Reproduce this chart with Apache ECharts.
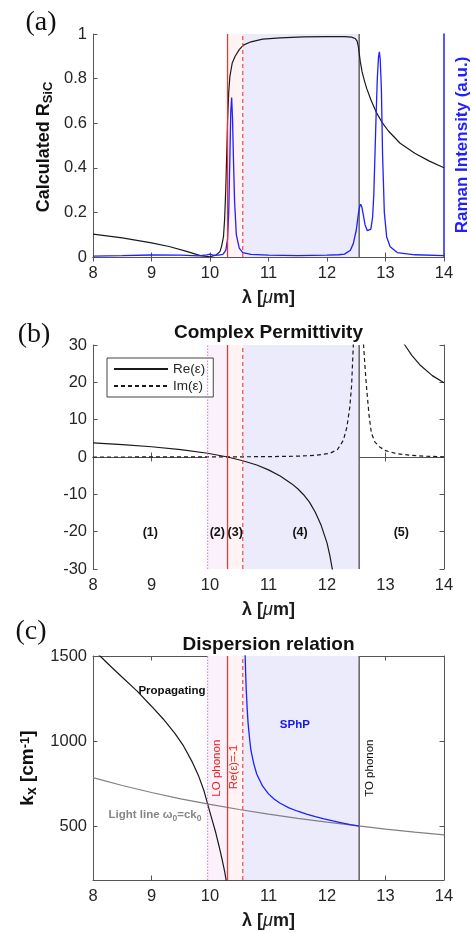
<!DOCTYPE html>
<html>
<head>
<meta charset="utf-8">
<script src="https://cdn.jsdelivr.net/npm/echarts@6/dist/echarts.min.js"></script>
<style>
html, body { margin: 0; padding: 0; background: #fff; }
#chart { width: 471px; height: 933px; }
</style>
</head>
<body>
<div id="chart"></div>
<script>
// (a) calculated reflectance and Raman spectrum
const rLam = [8, 8.5, 9, 9.3, 9.6, 9.85, 10.0, 10.1, 10.17, 10.2, 10.23, 10.25, 10.27, 10.29, 10.3, 10.32, 10.34, 10.38, 10.43, 10.5, 10.57, 10.7, 10.9, 11.2, 11.6, 12, 12.3, 12.42, 12.48, 12.515, 12.535, 12.55, 12.57, 12.6, 12.64, 12.68, 12.75, 12.85, 12.95, 13.05, 13.25, 13.5, 13.75, 14];
const rVal = [0.103, 0.086, 0.063, 0.047, 0.025, 0.005, 0.001, 0.008, 0.024, 0.05, 0.09, 0.17, 0.31, 0.5, 0.61, 0.74, 0.81, 0.87, 0.9, 0.93, 0.95, 0.965, 0.977, 0.983, 0.987, 0.988, 0.988, 0.986, 0.98, 0.968, 0.945, 0.915, 0.875, 0.83, 0.79, 0.755, 0.705, 0.645, 0.6, 0.565, 0.51, 0.465, 0.43, 0.40];
const ramanLam = [8, 8.5, 9, 9.5, 9.8, 9.95, 10.0, 10.05, 10.15, 10.22, 10.27, 10.3, 10.32, 10.34, 10.355, 10.37, 10.385, 10.4, 10.42, 10.45, 10.5, 10.56, 10.7, 11, 11.5, 12, 12.2, 12.3, 12.4, 12.45, 12.5, 12.54, 12.56, 12.575, 12.595, 12.62, 12.65, 12.69, 12.72, 12.75, 12.78, 12.8, 12.82, 12.84, 12.86, 12.88, 12.895, 12.91, 12.93, 12.95, 12.98, 13.02, 13.08, 13.2, 13.5, 14];
const ramanVal = [0.004, 0.006, 0.009, 0.008, 0.005, 0.01, 0.013, 0.008, 0.008, 0.012, 0.03, 0.08, 0.2, 0.45, 0.65, 0.715, 0.62, 0.45, 0.25, 0.1, 0.04, 0.02, 0.012, 0.008, 0.006, 0.008, 0.01, 0.013, 0.03, 0.06, 0.12, 0.2, 0.228, 0.237, 0.225, 0.19, 0.145, 0.118, 0.113, 0.125, 0.18, 0.28, 0.46, 0.64, 0.8, 0.895, 0.92, 0.885, 0.75, 0.46, 0.2, 0.09, 0.046, 0.02, 0.01, 0.006];

// (b) permittivity, two branches each
const reLamL = [8, 8.5, 9, 9.5, 9.96, 10.3, 10.56, 10.8, 11.0, 11.2, 11.4, 11.5, 11.6, 11.7, 11.8, 11.9, 12.0, 12.05, 12.09, 12.12];
const reValL = [3.8, 3.3, 2.75, 2.0, 1.0, 0, -1.0, -2.15, -3.45, -5.1, -7.2, -8.5, -10.1, -12.1, -14.8, -18.3, -23, -26.5, -30, -32];
const reLamR = [13.28, 13.33, 13.45, 13.6, 13.8, 14];
const reValR = [31.5, 30, 27.2, 24.5, 21.8, 19.9];
const imLamL = [8, 9, 10, 10.5, 11, 11.5, 11.8, 12.05, 12.18, 12.28, 12.34, 12.39, 12.42, 12.45, 12.46];
const imValL = [0, 0.01, 0.03, 0.05, 0.1, 0.22, 0.45, 1.0, 2.0, 4.5, 8, 13.4, 19, 30, 34];
const imLamR = [12.615, 12.625, 12.65, 12.68, 12.72, 12.76, 12.82, 12.9, 13.0, 13.18, 13.4, 13.7, 14];
const imValR = [34, 30, 24, 17.9, 11, 6.3, 4.0, 2.7, 1.7, 0.94, 0.5, 0.2, 0.06];
const regionNames = ['(1)', '(2)', '(3)', '(4)', '(5)'];
const regionLam = [8.98, 10.125, 10.43, 11.54, 13.27];

// (c) dispersion relation
const lightLam = [8, 8.5, 9, 9.5, 10, 10.5, 11, 11.5, 12, 12.5, 13, 13.5, 14];
const lightK = [785, 739, 698, 661, 628, 598, 571, 546, 524, 503, 483, 465, 449];
const propLam = [8.0, 8.12, 8.3, 8.5, 8.75, 9.0, 9.2, 9.4, 9.55, 9.7, 9.8, 9.9, 9.96, 10.03, 10.1, 10.16, 10.21, 10.25, 10.28, 10.3];
const propK = [1540, 1500, 1440, 1375, 1295, 1205, 1130, 1045, 970, 875, 800, 705, 630, 545, 460, 375, 300, 235, 175, 130];
const sphpLam = [10.595, 10.6, 10.61, 10.62, 10.635, 10.65, 10.675, 10.7, 10.75, 10.8, 10.9, 11.0, 11.1, 11.2, 11.35, 11.5, 11.65, 11.8, 11.95, 12.1, 12.25, 12.4, 12.55];
const sphpK = [1600, 1510, 1390, 1300, 1195, 1110, 1020, 945, 865, 805, 735, 690, 658, 635, 608, 588, 571, 556, 543, 531, 520, 509, 501];

// special wavelengths: Re(eps)=1, LO phonon, Re(eps)=-1, TO phonon
const edges = [9.96, 10.30, 10.56, 12.55];
const kTicks = [500, 1000, 1500];
const yRangeA = [0, 1];
const yRangeB = [-30, 30];
const yRangeC = [184, 1500];

const SANS = 'Liberation Sans, Arial, sans-serif';
const FRAME = '#555';
const TXT = '#262626';
const BLUE = '#1f1fff';

const zip = (xs, ys) => xs.map((x, i) => [x, ys[i]]);
const gap = (a, b) => a.concat([[edges[3], null]], b);

const chart = echarts.init(document.getElementById('chart'));

const grids = [
    { left: 93, width: 351, top: 34, height: 223 },
    { left: 93, width: 351, top: 345, height: 224 },
    { left: 93, width: 351, top: 656, height: 224 }
];

const lamName = '{l|λ [}{mu|μ}{l|m]}';
const lamRich = {
    l: { fontSize: 18, fontWeight: 'bold', fontFamily: SANS, color: '#1a1a1a' },
    mu: { fontSize: 18, fontStyle: 'italic', fontFamily: SANS, color: '#1a1a1a' }
};

function xAxesFor(g) {
    return [{
        gridIndex: g, type: 'value', min: 8, max: 14, interval: 1, position: 'bottom',
        axisLine: { lineStyle: { color: FRAME, width: 1 } },
        axisTick: { inside: true, length: 4.5, lineStyle: { color: FRAME } },
        axisLabel: { color: TXT, fontSize: 16.5, fontFamily: SANS, margin: 8 },
        splitLine: { show: false },
        name: lamName, nameLocation: 'middle', nameGap: 32,
        nameTextStyle: { rich: lamRich }
    }, {
        gridIndex: g, type: 'value', min: 8, max: 14, interval: 1, position: 'top',
        axisLine: { lineStyle: { color: FRAME, width: 1 } },
        axisTick: { inside: true, length: 4.5, lineStyle: { color: FRAME } },
        axisLabel: { show: false },
        splitLine: { show: false }
    }];
}

const yLabel = { color: TXT, fontSize: 16.5, fontFamily: SANS, margin: 6, formatter: v => String(v) };
const yTick = { inside: true, length: 4.5, lineStyle: { color: FRAME } };

const yAxes = [
    { gridIndex: 0, type: 'value', min: 0, max: 1, interval: 0.2, position: 'left',
      axisLine: { show: true, lineStyle: { color: FRAME } }, axisTick: yTick, axisLabel: yLabel, splitLine: { show: false } },
    { gridIndex: 0, type: 'value', min: 0, max: 1, interval: 0.2, position: 'right',
      axisLine: { show: true, lineStyle: { color: BLUE, width: 1.5 } }, axisTick: { show: false }, axisLabel: { show: false }, splitLine: { show: false } },
    { gridIndex: 1, type: 'value', min: -30, max: 30, interval: 10, position: 'left',
      axisLine: { show: true, lineStyle: { color: FRAME } }, axisTick: yTick, axisLabel: yLabel, splitLine: { show: false } },
    { gridIndex: 1, type: 'value', min: -30, max: 30, interval: 10, position: 'right',
      axisLine: { show: true, lineStyle: { color: FRAME } }, axisTick: yTick, axisLabel: { show: false }, splitLine: { show: false } },
    { gridIndex: 2, type: 'value', min: 184, max: 1500, position: 'left',
      axisLine: { show: true, lineStyle: { color: FRAME } },
      axisTick: Object.assign({ customValues: kTicks }, yTick),
      axisLabel: Object.assign({ customValues: kTicks }, yLabel), splitLine: { show: false } },
    { gridIndex: 2, type: 'value', min: 184, max: 1500, position: 'right',
      axisLine: { show: true, lineStyle: { color: FRAME } },
      axisTick: Object.assign({ customValues: kTicks }, yTick),
      axisLabel: { show: false }, splitLine: { show: false } }
];

const C_LAV = '#ebebfb';
const C_PINK = '#fff3f3';
const C_MAG = '#fbf1fb';

const vColors = ['#e070e0', '#ff2a2a', '#f24a4a', '#595959'];
const vWidths = [1, 1.2, 1.2, 1.4];
const vTypes = [[1.5, 1.5], 'solid', [4, 3], 'solid'];

function shading(withMag) {
    const areas = [
        [{ xAxis: edges[1], itemStyle: { color: C_PINK } }, { xAxis: edges[2] }],
        [{ xAxis: edges[2], itemStyle: { color: C_LAV } }, { xAxis: edges[3] }]
    ];
    if (withMag) areas.unshift([{ xAxis: edges[0], itemStyle: { color: C_MAG } }, { xAxis: edges[1] }]);
    return { markArea: { silent: true, itemStyle: { opacity: 1 }, data: areas } };
}

// vertical reference lines drawn as ordinary line series through the axes
function vLines(xi, yi, range, withMag) {
    const out = [];
    edges.forEach((x, i) => {
        if (i === 0 && !withMag) return;
        out.push({
            type: 'line', xAxisIndex: xi, yAxisIndex: yi, symbol: 'none', silent: true, animation: false,
            color: vColors[i],
            data: [[x, range[0]], [x, range[1]]],
            itemStyle: { color: vColors[i] },
            lineStyle: { color: vColors[i], width: vWidths[i], type: vTypes[i] },
            z: i === 3 ? 2 : 4
        });
    });
    return out;
}

const curve = (extra) => Object.assign({
    type: 'line', symbol: 'none', smooth: false, silent: true,
    animation: false, clip: true, connectNulls: false, z: 3
}, extra);

const textSeries = (xi, yi, items) => ({
    type: 'scatter', xAxisIndex: xi, yAxisIndex: yi, symbolSize: 0, silent: true, z: 6,
    itemStyle: { opacity: 1 }, animation: false,
    data: items
});

const option = {
    animation: false,
    grid: grids,
    xAxis: [].concat(xAxesFor(0), xAxesFor(1), xAxesFor(2)),
    yAxis: yAxes,
    legend: {
        data: ['Re(ε)', 'Im(ε)'], orient: 'vertical', left: 107, top: 358,
        itemWidth: 54, itemHeight: 10, itemGap: 3, padding: [4, 8, 4, 6],
        borderColor: '#444', borderWidth: 1, backgroundColor: '#fff',
        selectedMode: false,
        itemStyle: { opacity: 0 },
        textStyle: { fontSize: 13.5, fontFamily: SANS, color: TXT }
    },
    series: [].concat(
        // (a)
        vLines(0, 0, yRangeA, false),
        [
            curve(Object.assign({ name: 'R', xAxisIndex: 0, yAxisIndex: 0, data: zip(rLam, rVal),
                lineStyle: { color: '#1a1a1a', width: 1.2 } }, shading(false))),
            curve({ name: 'Raman', xAxisIndex: 0, yAxisIndex: 1, data: zip(ramanLam, ramanVal),
                lineStyle: { color: BLUE, width: 1.3 } })
        ],
        // (b)
        vLines(2, 2, yRangeB, true),
        [
            curve(Object.assign({ name: 'Re(ε)', xAxisIndex: 2, yAxisIndex: 2,
                data: gap(zip(reLamL, reValL), zip(reLamR, reValR)),
                itemStyle: { color: '#1a1a1a' },
                lineStyle: { color: '#1a1a1a', width: 1.2 } }, shading(true))),
            curve({ name: 'Im(ε)', xAxisIndex: 2, yAxisIndex: 2,
                data: gap(zip(imLamL, imValL), zip(imLamR, imValR)),
                itemStyle: { color: '#1a1a1a' },
                lineStyle: { color: '#1a1a1a', width: 1.2, type: [4, 3] } }),
            textSeries(2, 2, regionNames.map((n, i) => ({
                value: [regionLam[i], -20.3],
                label: { show: true, position: 'inside', formatter: n, fontSize: 12.5, fontWeight: 'bold',
                    fontFamily: SANS, color: '#111' }
            })))
        ],
        // (c)
        vLines(4, 4, yRangeC, true),
        [
            curve(Object.assign({ name: 'Light line', xAxisIndex: 4, yAxisIndex: 4, data: zip(lightLam, lightK),
                lineStyle: { color: '#808080', width: 1.2 } }, shading(true))),
            curve({ name: 'Propagating', xAxisIndex: 4, yAxisIndex: 4, data: zip(propLam, propK),
                lineStyle: { color: '#1a1a1a', width: 1.2 } }),
            curve({ name: 'SPhP', xAxisIndex: 4, yAxisIndex: 4, data: zip(sphpLam, sphpK),
                lineStyle: { color: BLUE, width: 1.3 } }),
            textSeries(4, 4, [
                { value: [9.35, 1294], label: { show: true, position: 'inside', formatter: 'Propagating',
                    fontSize: 11.5, fontWeight: 'bold', fontFamily: SANS, color: '#111' } },
                { value: [11.45, 1094], label: { show: true, position: 'inside', formatter: 'SPhP',
                    fontSize: 11.5, fontWeight: 'bold', fontFamily: SANS, color: '#1515f0' } },
                { value: [9.06, 559], label: { show: true, position: 'inside',
                    formatter: '{t|Light line ω}{s|0}{t|=ck}{s|0}',
                    rich: {
                        t: { fontSize: 11.5, fontWeight: 'bold', fontFamily: SANS, color: '#878787', verticalAlign: 'top', lineHeight: 14 },
                        s: { fontSize: 8.5, fontWeight: 'bold', fontFamily: SANS, color: '#878787', verticalAlign: 'bottom', lineHeight: 9, padding: [8, 0, 0, 0] }
                    } } },
                { value: [10.12, 841], label: { show: true, position: 'inside', rotate: 90, formatter: 'LO phonon',
                    fontSize: 11.5, fontFamily: SANS, color: '#ee2222' } },
                { value: [10.40, 847], label: { show: true, position: 'inside', rotate: 90, formatter: 'Re(ε)=-1',
                    fontSize: 11.5, fontFamily: SANS, color: '#ee2222' } },
                { value: [12.735, 841], label: { show: true, position: 'inside', rotate: 90, formatter: 'TO phonon',
                    fontSize: 11.5, fontFamily: SANS, color: '#111' } }
            ])
        ]
    ),
    graphic: [
        { type: 'text', x: 41, y: 23, style: { text: '(a)', font: '28px "Liberation Serif", serif', fill: '#111', align: 'center', verticalAlign: 'middle' } },
        { type: 'text', x: 34, y: 335, style: { text: '(b)', font: '28px "Liberation Serif", serif', fill: '#111', align: 'center', verticalAlign: 'middle' } },
        { type: 'text', x: 31, y: 632, style: { text: '(c)', font: '28px "Liberation Serif", serif', fill: '#111', align: 'center', verticalAlign: 'middle' } },
        { type: 'text', x: 268.5, y: 333, style: { text: 'Complex Permittivity', font: 'bold 19px "Liberation Sans", Arial', fill: '#111', align: 'center', verticalAlign: 'middle' } },
        { type: 'text', x: 268.5, y: 645, style: { text: 'Dispersion relation', font: 'bold 19px "Liberation Sans", Arial', fill: '#111', align: 'center', verticalAlign: 'middle' } },
        { type: 'text', x: 45, y: 147, rotation: Math.PI / 2, style: {
            text: '{b|Calculated R}{s|SiC}', align: 'center', verticalAlign: 'middle',
            rich: {
                b: { fontSize: 18, fontWeight: 'bold', fontFamily: SANS, fill: '#111', verticalAlign: 'top', lineHeight: 20 },
                s: { fontSize: 13, fontWeight: 'bold', fontFamily: SANS, fill: '#111', verticalAlign: 'bottom', lineHeight: 13, padding: [9, 0, 0, 0] }
            } } },
        { type: 'text', x: 462, y: 145, rotation: Math.PI / 2, style: {
            text: 'Raman Intensity (a.u.)', font: 'bold 17px "Liberation Sans", Arial', fill: BLUE, align: 'center', verticalAlign: 'middle' } },
        { type: 'text', x: 29, y: 768, rotation: Math.PI / 2, style: {
            text: '{b|k}{s|x}{b| [cm}{p|-1}{b|]}', align: 'center', verticalAlign: 'middle',
            rich: {
                b: { fontSize: 19, fontWeight: 'bold', fontFamily: SANS, fill: '#111', verticalAlign: 'top', lineHeight: 21 },
                s: { fontSize: 14, fontWeight: 'bold', fontFamily: SANS, fill: '#111', verticalAlign: 'bottom', lineHeight: 14, padding: [10, 0, 0, 0] },
                p: { fontSize: 13, fontWeight: 'bold', fontFamily: SANS, fill: '#111', verticalAlign: 'top', lineHeight: 13 }
            } } }
    ]
};

chart.setOption(option);
</script>
</body>
</html>
